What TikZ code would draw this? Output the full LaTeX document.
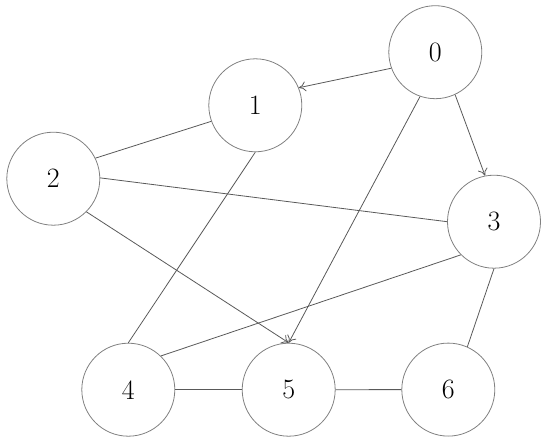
\documentclass[tikz,border=0pt]{standalone}
\usetikzlibrary{arrows.meta}
\begin{document}
\begin{tikzpicture}[x=1pt,y=-1pt,
  vert/.style={circle,draw=black!50,line width=0.8pt,minimum size=93pt,inner sep=0pt,font=\fontsize{28}{30}\selectfont},
  edge/.style={draw=black!65,line width=0.8pt},
  arc/.style={edge,-{To[length=7pt,width=10pt]}}]
\useasboundingbox (0,0) rectangle (550,444);
\node[vert] (n0) at (435.3,52.2) {0};
\node[vert] (n1) at (255.3,105.3) {1};
\node[vert] (n2) at (53.3,178.7) {2};
\node[vert] (n3) at (494,221.7) {3};
\node[vert] (n4) at (128.3,389.7) {4};
\node[vert] (n5) at (288.7,389.7) {5};
\node[vert] (n6) at (448.3,389.6) {6};
\draw[arc] (n0.200) -- (n1.22);
\draw[arc] (n0.295) -- (n3.101);
\draw[arc] (n0.251) -- (n5.north);
\draw[arc] (n2.315) -- (n5.north);
\draw[edge] (n1.200) -- (n2.26);
\draw[edge] (n1.south) -- (n4.north);
\draw[edge] (n2.1) -- (n3.west);
\draw[edge] (n3.225) -- (n4.46);
\draw[edge] (n3.south) -- (n6.66);
\draw[edge] (n4.east) -- (n5.west);
\draw[edge] (n5.east) -- (n6.west);
\end{tikzpicture}
\end{document}
